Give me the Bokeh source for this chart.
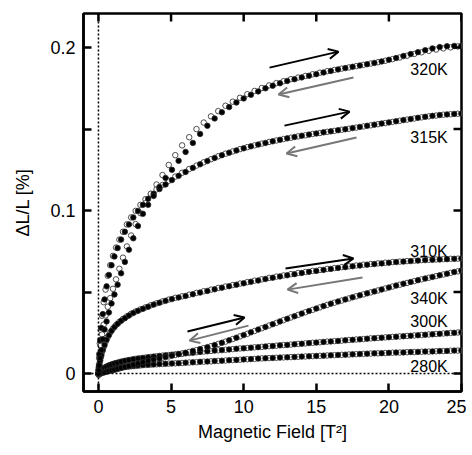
import math
from bokeh.plotting import figure
from bokeh.models import FixedTicker, Span, Arrow, OpenHead, Label, Range1d, ColumnDataSource
from bokeh.embed import file_html
from bokeh.resources import INLINE

# ---------------- data ----------------
# field values (T^2) of the field-up sweep (filled) and field-down sweep (open)
field_up = [0, 0.02, 0.06, 0.12, 0.2, 0.3, 0.42, 0.56, 0.72, 0.9,
            1.1, 1.32, 1.56, 1.82, 2.1, 2.4, 2.72, 3.06, 3.42, 3.8,
            4.2, 4.62, 5.06, 5.52, 6.0, 6.5, 7.0,
            7.5, 8.0, 8.5, 9.0, 9.5, 10.0, 10.5, 11.0, 11.5, 12.0,
            12.5, 13.0, 13.5, 14.0, 14.5, 15.0, 15.5, 16.0, 16.5, 17.0,
            17.5, 18.0, 18.5, 19.0, 19.5, 20.0, 20.5, 21.0, 21.5, 22.0,
            22.5, 23.0, 23.5, 24.0, 24.5, 25.0]
field_down = [0.01, 0.04, 0.09, 0.16, 0.25, 0.36, 0.49, 0.64, 0.81, 1.0,
              1.21, 1.44, 1.69, 1.96, 2.25, 2.56, 2.89, 3.24, 3.61, 4.0,
              4.41, 4.84, 5.29, 5.76, 6.25, 6.75,
              7.25, 7.75, 8.25, 8.75, 9.25, 9.75, 10.25, 10.75, 11.25, 11.75,
              12.25, 12.75, 13.25, 13.75, 14.25, 14.75, 15.25, 15.75, 16.25, 16.75,
              17.25, 17.75, 18.25, 18.75, 19.25, 19.75, 20.25, 20.75, 21.25, 21.75,
              22.25, 22.75, 23.25, 23.75, 24.25, 24.75, 25.0]

dl_320K_up = [0, 0.002, 0.005, 0.0095, 0.0145, 0.021, 0.027, 0.032, 0.0375, 0.043,
              0.0485, 0.0545, 0.0615, 0.0685, 0.076, 0.083, 0.0905, 0.098, 0.1035, 0.109,
              0.1145, 0.12, 0.125, 0.1305, 0.136, 0.1415, 0.147,
              0.152, 0.1565, 0.1603, 0.1635, 0.1663, 0.1688, 0.171, 0.1731, 0.175, 0.1766,
              0.1781, 0.1795, 0.1806, 0.1817, 0.1827, 0.1837, 0.1847, 0.1857, 0.1866, 0.1874,
              0.1882, 0.189, 0.1898, 0.1906, 0.1915, 0.1925, 0.1936, 0.1948, 0.196, 0.1972,
              0.1984, 0.1995, 0.2003, 0.2008, 0.201, 0.201]
dl_320K_down = [0.0015, 0.0055, 0.011, 0.017, 0.024, 0.03, 0.0357, 0.041, 0.0463, 0.052,
                0.0578, 0.0643, 0.0711, 0.078, 0.0847, 0.0917, 0.0984, 0.1045, 0.1103, 0.116,
                0.1218, 0.128, 0.134, 0.14, 0.145, 0.15,
                0.154, 0.1578, 0.161, 0.1643, 0.1668, 0.1692, 0.1714, 0.1734, 0.1752, 0.1768,
                0.1782, 0.1794, 0.1806, 0.1816, 0.1826, 0.1836, 0.1846, 0.1855, 0.1863, 0.1871,
                0.1878, 0.1886, 0.1894, 0.1902, 0.191, 0.1919, 0.1929, 0.1939, 0.195, 0.1961,
                0.1971, 0.198, 0.1988, 0.1995, 0.2001, 0.2007, 0.201]

dl_315K_up = [0, 0.004, 0.012, 0.0205, 0.028, 0.0365, 0.0455, 0.0535, 0.0605, 0.0665,
              0.0718, 0.077, 0.0822, 0.087, 0.0915, 0.0958, 0.0998, 0.1035, 0.1072, 0.1103,
              0.1132, 0.116, 0.1187, 0.1213, 0.1237, 0.1262, 0.1284,
              0.1304, 0.1323, 0.134, 0.1355, 0.1369, 0.1382, 0.1394, 0.1405, 0.1415, 0.1425,
              0.1434, 0.1443, 0.1451, 0.1459, 0.1466, 0.1473, 0.148, 0.1486, 0.1493, 0.1499,
              0.1506, 0.1513, 0.152, 0.1527, 0.1534, 0.1541, 0.1548, 0.1555, 0.1562, 0.1569,
              0.1575, 0.1581, 0.1586, 0.159, 0.1593, 0.1595]
dl_315K_down = [0.0025, 0.0095, 0.0185, 0.0268, 0.0355, 0.0438, 0.0515, 0.06, 0.0665, 0.0722,
                0.0773, 0.0822, 0.087, 0.0915, 0.0958, 0.0998, 0.1035, 0.107, 0.1102, 0.113,
                0.1157, 0.1183, 0.1208, 0.1232, 0.1255, 0.1276,
                0.1296, 0.1315, 0.1333, 0.1349, 0.1363, 0.1377, 0.1389, 0.14, 0.1411, 0.1421,
                0.143, 0.1439, 0.1447, 0.1455, 0.1462, 0.147, 0.1476, 0.1483, 0.1489, 0.1496,
                0.1502, 0.1509, 0.1516, 0.1523, 0.153, 0.1537, 0.1544, 0.1551, 0.1558, 0.1565,
                0.1572, 0.1578, 0.1583, 0.1588, 0.1591, 0.1594, 0.1595]

dl_310K_up = [0, 0.0025, 0.005, 0.008, 0.0112, 0.0145, 0.0175, 0.0207, 0.0235, 0.0262,
              0.0285, 0.0305, 0.0324, 0.034, 0.0356, 0.0372, 0.0385, 0.0397, 0.041, 0.0423,
              0.0435, 0.0446, 0.0457, 0.0467, 0.0476, 0.0487, 0.0497,
              0.0507, 0.0517, 0.0527, 0.0536, 0.0545, 0.0554, 0.0563, 0.0571, 0.058, 0.0588,
              0.0596, 0.0603, 0.061, 0.0617, 0.0624, 0.063, 0.0636, 0.0642, 0.0648, 0.0653,
              0.0658, 0.0663, 0.0668, 0.0672, 0.0676, 0.068, 0.0684, 0.0687, 0.069, 0.0693,
              0.0696, 0.0698, 0.07, 0.0702, 0.0704, 0.0706]
dl_310K_down = [0.0015, 0.004, 0.0068, 0.0098, 0.0132, 0.0163, 0.0195, 0.0224, 0.0252, 0.0276,
                0.0298, 0.0317, 0.0335, 0.0351, 0.0367, 0.0381, 0.0394, 0.0406, 0.0419, 0.0431,
                0.0443, 0.0454, 0.0465, 0.0474, 0.0484, 0.0495,
                0.0505, 0.0515, 0.0525, 0.0534, 0.0543, 0.0552, 0.0561, 0.057, 0.0578, 0.0587,
                0.0595, 0.0602, 0.061, 0.0617, 0.0623, 0.063, 0.0636, 0.0642, 0.0647, 0.0653,
                0.0658, 0.0663, 0.0668, 0.0672, 0.0676, 0.068, 0.0684, 0.0687, 0.069, 0.0693,
                0.0696, 0.0698, 0.07, 0.0702, 0.0704, 0.0705, 0.0706]

dl_340K_up = [0, 0.0, 0.0001, 0.0003, 0.0004, 0.0007, 0.0009, 0.0012, 0.0016, 0.002,
              0.0024, 0.0029, 0.0035, 0.0041, 0.0047, 0.0054, 0.0062, 0.0069, 0.0078, 0.0086,
              0.0093, 0.0101, 0.011, 0.0119, 0.0128, 0.0139, 0.015,
              0.0162, 0.0175, 0.0189, 0.0204, 0.022, 0.0236, 0.0253, 0.027, 0.0286, 0.0303,
              0.032, 0.0336, 0.0352, 0.0368, 0.0384, 0.0399, 0.0414, 0.0429, 0.0442, 0.0455,
              0.0468, 0.048, 0.0492, 0.0504, 0.0516, 0.0528, 0.054, 0.0551, 0.0562, 0.0573,
              0.0583, 0.0593, 0.0603, 0.0613, 0.0623, 0.0632]
dl_340K_down = [-0.0008, -0.0006, -0.0003, 0.0001, 0.0004, 0.0007, 0.001, 0.0014, 0.0018, 0.0022,
                0.0027, 0.0032, 0.0038, 0.0044, 0.0051, 0.0058, 0.0066, 0.0074, 0.0082, 0.0089,
                0.0097, 0.0105, 0.0114, 0.0123, 0.0133, 0.0144,
                0.0156, 0.0168, 0.0182, 0.0196, 0.0212, 0.0228, 0.0244, 0.0261, 0.0278, 0.0295,
                0.0311, 0.0328, 0.0344, 0.036, 0.0376, 0.0391, 0.0406, 0.0421, 0.0435, 0.0448,
                0.0461, 0.0474, 0.0486, 0.0498, 0.051, 0.0522, 0.0534, 0.0545, 0.0556, 0.0567,
                0.0578, 0.0588, 0.0598, 0.0608, 0.0618, 0.0627, 0.0632]

dl_300K_up = [0, 0.0003, 0.0008, 0.0015, 0.0022, 0.0029, 0.0036, 0.0043, 0.005, 0.0056,
              0.0062, 0.0067, 0.0073, 0.0078, 0.0083, 0.0088, 0.0092, 0.0096, 0.01, 0.0104,
              0.0108, 0.0112, 0.0116, 0.012, 0.0124, 0.0128, 0.0133,
              0.0137, 0.0141, 0.0144, 0.0148, 0.0152, 0.0155, 0.0159, 0.0162, 0.0166, 0.0169,
              0.0173, 0.0176, 0.018, 0.0183, 0.0187, 0.019, 0.0194, 0.0197, 0.02, 0.0204,
              0.0207, 0.021, 0.0214, 0.0217, 0.022, 0.0223, 0.0226, 0.0229, 0.0232, 0.0235,
              0.0238, 0.0241, 0.0244, 0.0247, 0.025, 0.0253]
dl_300K_down = [-0.0004, 0.0002, 0.0009, 0.0016, 0.0024, 0.0031, 0.0038, 0.0045, 0.0052, 0.0058,
                0.0064, 0.007, 0.0075, 0.008, 0.0085, 0.009, 0.0094, 0.0098, 0.0102, 0.0106,
                0.011, 0.0114, 0.0118, 0.0122, 0.0126, 0.0131,
                0.0135, 0.0139, 0.0143, 0.0146, 0.015, 0.0154, 0.0157, 0.0161, 0.0164, 0.0168,
                0.0171, 0.0175, 0.0178, 0.0182, 0.0185, 0.0189, 0.0192, 0.0196, 0.0199, 0.0202,
                0.0206, 0.0209, 0.0212, 0.0216, 0.0219, 0.0222, 0.0225, 0.0228, 0.0231, 0.0234,
                0.0237, 0.024, 0.0243, 0.0246, 0.0249, 0.0252, 0.0253]

dl_280K_up = [0, 0.0002, 0.0005, 0.0009, 0.0013, 0.0016, 0.002, 0.0023, 0.0026, 0.0029,
              0.0032, 0.0035, 0.0039, 0.0041, 0.0044, 0.0046, 0.0049, 0.0052, 0.0054, 0.0056,
              0.0058, 0.006, 0.0062, 0.0064, 0.0067, 0.0069, 0.0072,
              0.0074, 0.0077, 0.0079, 0.0082, 0.0084, 0.0087, 0.0089, 0.0092, 0.0094, 0.0096,
              0.0098, 0.01, 0.0102, 0.0104, 0.0106, 0.0108, 0.011, 0.0112, 0.0114, 0.0116,
              0.0118, 0.012, 0.0122, 0.0124, 0.0125, 0.0127, 0.0129, 0.013, 0.0132, 0.0133,
              0.0135, 0.0136, 0.0138, 0.0139, 0.0141, 0.0142]
dl_280K_down = [-0.0006, -0.0002, 0.0004, 0.0009, 0.0013, 0.0017, 0.0021, 0.0024, 0.0027, 0.003,
                0.0033, 0.0036, 0.0039, 0.0042, 0.0045, 0.0047, 0.005, 0.0053, 0.0055, 0.0057,
                0.0059, 0.0061, 0.0063, 0.0065, 0.0068, 0.007,
                0.0073, 0.0075, 0.0078, 0.008, 0.0083, 0.0085, 0.0088, 0.009, 0.0093, 0.0095,
                0.0097, 0.0099, 0.0101, 0.0103, 0.0105, 0.0107, 0.0109, 0.0111, 0.0113, 0.0115,
                0.0117, 0.0119, 0.0121, 0.0123, 0.0124, 0.0126, 0.0128, 0.0129, 0.0131, 0.0132,
                0.0134, 0.0135, 0.0137, 0.0138, 0.014, 0.0141, 0.0142]

temperatures = ["280K", "300K", "340K", "310K", "315K", "320K"]
curves_up = {"280K": dl_280K_up, "300K": dl_300K_up, "340K": dl_340K_up,
             "310K": dl_310K_up, "315K": dl_315K_up, "320K": dl_320K_up}
curves_down = {"280K": dl_280K_down, "300K": dl_300K_down, "340K": dl_340K_down,
               "310K": dl_310K_down, "315K": dl_315K_down, "320K": dl_320K_down}

x_ticks = [0, 5, 10, 15, 20, 25]
y_ticks = [0, 0.1, 0.2]
y_minor_ticks = [0.05, 0.15]

# ---------------- figure ----------------
FONT = "Liberation Sans"
X_START, X_END = -1.03, 25.0
Y_START, Y_END = -0.011, 0.2209
TICK_LEN = 8
AX_W = 2.5

p = figure(width=466, height=447, output_backend="svg", toolbar_location=None,
           x_range=Range1d(X_START, X_END), y_range=Range1d(Y_START, Y_END),
           min_border_left=83, min_border_right=5, min_border_top=13,
           min_border_bottom=56)
p.grid.visible = False
p.background_fill_color = "white"
p.border_fill_color = "white"
p.outline_line_color = "black"
p.outline_line_width = AX_W

# reference lines
p.add_layout(Span(location=0, dimension="height", line_color="black",
                  line_width=1.5, line_dash="2 2"))
p.add_layout(Span(location=0, dimension="width", line_color="black",
                  line_width=1.5, line_dash="2 2"))

# data
for t in temperatures:
    src_d = ColumnDataSource(dict(x=field_down, y=curves_down[t]))
    p.scatter("x", "y", source=src_d, marker="circle", size=5.5,
              fill_color="white", line_color="#3c3c3c", line_width=0.9)
for t in temperatures:
    src_u = ColumnDataSource(dict(x=field_up, y=curves_up[t]))
    p.scatter("x", "y", source=src_u, marker="circle", size=5.5,
              fill_color="black", line_color="#2a2a2a", line_width=0.8)

# axes styling
def style_axis(ax, ticker):
    ax.ticker = ticker
    ax.axis_line_width = AX_W
    ax.axis_line_color = "black"
    ax.major_tick_in = TICK_LEN
    ax.major_tick_out = 0
    ax.minor_tick_in = TICK_LEN
    ax.minor_tick_out = 0
    ax.major_tick_line_width = AX_W
    ax.minor_tick_line_width = AX_W
    ax.major_tick_line_color = "black"
    ax.minor_tick_line_color = "black"
    ax.major_label_text_font = FONT
    ax.major_label_text_color = "black"
    ax.major_label_text_font_size = "18px"
    ax.major_label_standoff = 8
    ax.axis_label_text_font = FONT
    ax.axis_label_text_font_size = "18px"
    ax.axis_label_text_font_style = "normal"
    ax.axis_label_text_color = "black"

style_axis(p.xaxis[0], FixedTicker(ticks=x_ticks, minor_ticks=[]))
style_axis(p.yaxis[0], FixedTicker(ticks=y_ticks, minor_ticks=y_minor_ticks))
p.yaxis[0].major_label_overrides = {0: "0", 0.1: "0.1", 0.2: "0.2"}
p.xaxis[0].axis_label = "Magnetic Field [T²]"
p.yaxis[0].axis_label = "ΔL/L [%]"
p.xaxis[0].axis_label_standoff = 6
p.yaxis[0].axis_label_standoff = 14

# mirrored inward ticks on the top and right frame edges
y_all_ticks = sorted(y_ticks + y_minor_ticks)
p.ray(x=x_ticks, y=[Y_END] * len(x_ticks), length=TICK_LEN, length_units="screen",
      angle=-math.pi / 2, line_width=AX_W, line_color="black")
p.ray(x=[X_END] * len(y_all_ticks), y=y_all_ticks, length=TICK_LEN, length_units="screen",
      angle=math.pi, line_width=AX_W, line_color="black")

# sweep-direction arrows
arrows = [
    (11.78, 0.1877, 16.53, 0.1975, "black"),
    (17.56, 0.1816, 12.40, 0.1712, "#777777"),
    (12.81, 0.1521, 17.29, 0.1607, "black"),
    (17.77, 0.1448, 12.95, 0.1350, "#777777"),
    (12.88, 0.0644, 17.56, 0.0706, "black"),
    (18.18, 0.0589, 13.02, 0.0515, "#777777"),
    (6.13, 0.0258, 10.06, 0.0344, "black"),
    (10.33, 0.0294, 6.27, 0.0202, "#777777"),
]
for xs, ys, xe, ye, c in arrows:
    p.add_layout(Arrow(end=OpenHead(size=10, line_width=2, line_color=c),
                       x_start=xs, y_start=ys, x_end=xe, y_end=ye,
                       line_width=2, line_color=c))

# temperature labels
label_pos = {"320K": 0.1865, "315K": 0.1451, "310K": 0.0749,
             "340K": 0.0463, "300K": 0.0319, "280K": 0.0043}
for t in temperatures:
    p.add_layout(Label(x=24.05, y=label_pos[t], text=t, text_align="right",
                       text_baseline="middle", text_font=FONT,
                       text_font_size="16px", text_color="black"))

open("out.html", "w").write(file_html(p, INLINE))
